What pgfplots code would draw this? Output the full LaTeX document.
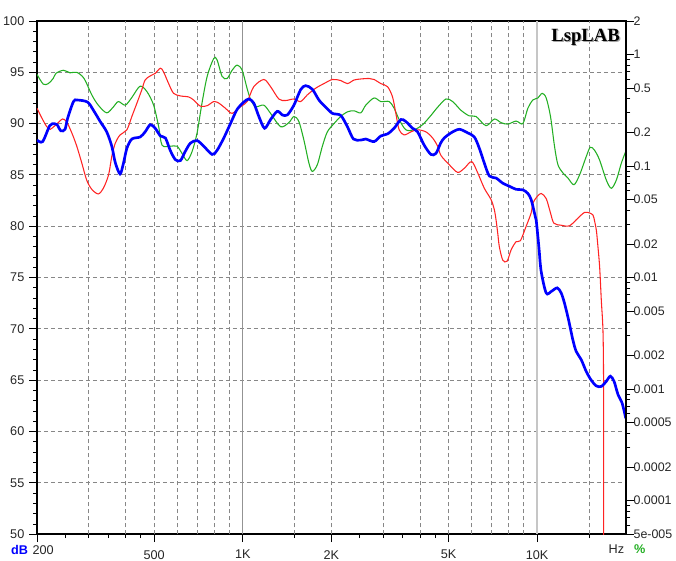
\documentclass[border=0pt]{standalone}
\usepackage{fontspec}
\setmainfont{Liberation Sans}
\newfontfamily\lspfont{Liberation Serif}
\usepackage{pgfplots}
\pgfplotsset{compat=1.18}
\definecolor{cblue}{RGB}{0,0,255}
\definecolor{cred}{RGB}{255,35,35}
\definecolor{cgreen}{RGB}{35,175,35}
\definecolor{gridc}{RGB}{135,135,135}
\begin{document}
\begin{tikzpicture}
\begin{axis}[name=main, at={(0,0)}, anchor=south west,
  scale only axis, width=441.75pt, height=385.1pt,
  xmode=log, xmin=200, xmax=20000, ymin=50, ymax=100,
  axis line style={line width=1.5pt, black},
  ytick={50,55,...,100}, minor y tick num=4,
  ymajorgrids,
  major grid style={gridc, dash pattern=on 3pt off 2.25pt, line width=0.7pt},
  xtick={200,500,1000,2000,5000,10000},
  xticklabels={,500,1K,2K,5K,10K},
  minor xtick={250,300,350,400,450,1500,2500,3000,3500,4000,4500,15000},
  xtick pos=bottom, ytick pos=left,
  tick align=outside, major tick length=6pt, minor tick length=3pt,
  tick style={black, line width=0.7pt},
  ticklabel style={font=\fontsize{9.5}{11}\selectfont, text=black!85},
  xticklabel style={yshift=-2.5pt},
  /pgf/number format/assume math mode=true,
  clip=true,
]
\pgfplotsinvokeforeach{300,400,500,600,700,800,900,1500,2000,3000,4000,5000,6000,7000,8000,9000,15000}{
  \draw[gridc, dash pattern=on 3pt off 2.25pt, line width=0.7pt] (axis cs:#1,50) -- (axis cs:#1,100);
}
\draw[gray!85, line width=0.75pt] (axis cs:1000,50) -- (axis cs:1000,100);
\draw[gray!45, line width=1.5pt] (axis cs:10000,50) -- (axis cs:10000,100);

% green
\addplot[cgreen, line width=0.8pt, smooth, tension=0.5] coordinates {
(200,94.8)(210,93.85)(218.5,93.9)(227,94.4)(232,94.9)(246,95.2)(259,94.95)(273,95.0)(289,94.4)
(307,92.8)(323,91.8)(345,91.05)(364,91.65)(378,92.15)(399,91.8)(420,92.55)(448,93.65)(473,93.1)
(498,91.8)(518,89.7)(532,87.9)(567,87.8)(598,87.8)(622,87.1)(647,86.4)(673,87.3)(699,89.05)
(727,92.0)(757,94.6)(797,96.35)(818,96.2)(851,94.6)(885,94.4)(920,95.2)(957,95.7)(995,95.2)
(1035,93.4)(1062,92.4)(1105,91.65)(1179,91.8)(1243,91.0)(1344,89.7)(1434,90.1)(1492,90.7)
(1551,90.2)(1613,88.4)(1678,86.15)(1723,85.35)(1792,86.0)(1864,87.8)(1938,89.2)(2041,90.0)
(2151,90.7)(2267,91.15)(2388,91.25)(2517,91.05)(2617,91.8)(2793,92.5)(2944,92.15)(3142,92.15)
(3267,91.5)(3398,90.4)(3581,89.4)(3822,89.4)(4082,89.9)(4357,90.8)(4592,91.6)(4900,92.4)
(5164,92.15)(5512,91.3)(5882,90.75)(6199,90.7)(6705,89.8)(7156,90.45)(7541,90.1)(7949,89.95)
(8483,90.25)(8940,90.0)(9298,91.5)(9669,92.3)(10056,92.5)(10401,92.95)(10732,92.5)(11100,90.7)
(11453,87.8)(11763,86.0)(12232,85.2)(12721,84.7)(13334,84.05)(13933,85.0)(14684,86.8)
(15152,87.7)(15672,87.4)(16298,86.45)(17177,84.5)(17864,83.7)(18578,84.5)(19320,86.15)(20000,87.3)
};
% red
\addplot[cred, line width=0.8pt, smooth, tension=0.5] coordinates {
(200,91.5)(209,90.4)(216,89.7)(222,89.45)(230,89.8)(236,90.1)(244,90.45)(252,90.2)(263,89.05)
(273,87.8)(284,86.15)(295,84.5)(307,83.6)(323,83.15)(336,83.7)(350,85.0)(359,86.8)(369,88.1)
(383,88.9)(404,89.4)(420,90.7)(437,92.0)(454,93.3)(466,94.25)(485,94.65)(504,94.9)(525,95.4)
(538,95.05)(560,93.9)(582,92.95)(614,92.7)(655,92.6)(681,92.3)(718,91.7)(757,91.75)(797,92.15)
(829,92.0)(873,91.5)(920,91.0)(982,91.65)(1035,92.15)(1090,93.6)(1179,94.3)(1243,93.6)
(1326,92.4)(1398,92.25)(1492,92.4)(1572,92.15)(1657,92.8)(1768,93.45)(1887,93.9)(2016,94.3)
(2151,94.2)(2267,93.9)(2388,94.25)(2517,94.35)(2686,94.4)(2793,94.3)(2944,93.9)(3103,93.6)
(3227,92.6)(3311,91.0)(3398,89.4)(3534,88.9)(3724,89.2)(3925,89.4)(4189,89.2)(4415,88.6)
(4592,87.8)(4712,86.9)(5028,86.0)(5370,85.25)(5656,85.65)(5994,86.3)(6282,85.2)(6616,83.7)
(6973,82.6)(7156,81.6)(7252,80.6)(7349,79.3)(7442,78.0)(7643,76.7)(7905,76.6)(8157,77.7)
(8483,78.5)(8774,78.6)(9175,80.0)(9541,81.3)(9669,82.25)(10001,82.9)(10319,83.2)(10732,82.7)
(11100,81.3)(11400,80.3)(12068,80.1)(12882,80.05)(13758,80.8)(14488,81.35)(15067,81.3)
(15475,81.1)(15596,80.8)(15882,79.65)(16007,78.7)(16298,76.1)(16517,72.8)(16742,69.6)
(16820,63.1)(16830,45)
};
% blue
\addplot[cblue, line width=2pt, smooth, tension=0.5] coordinates {
(200,88.4)(209,88.25)(221,89.8)(229,90.0)(234,89.9)(241,89.3)(249,89.45)(254,90.5)(266,92.15)
(274,92.3)(297,92.1)(311,91.3)(328,90.2)(345,89.2)(359,87.8)(369,86.2)(383,85.1)(393,86.1)
(404,87.6)(420,88.5)(448,88.7)(466,89.2)(485,89.9)(504,89.55)(525,88.8)(546,88.6)(567,87.4)
(590,86.5)(614,86.4)(638,87.3)(664,88.1)(699,88.35)(737,87.8)(787,87.0)(818,87.4)(862,88.6)
(908,90.0)(957,91.4)(1008,92.1)(1048,92.4)(1090,92.0)(1134,90.7)(1186,89.55)(1243,90.4)
(1310,91.2)(1362,90.85)(1417,90.85)(1492,91.8)(1572,93.3)(1635,93.7)(1723,93.35)(1815,92.3)
(1913,91.6)(2016,91.0)(2151,90.8)(2267,89.7)(2377,88.5)(2517,88.4)(2617,88.5)(2793,88.25)
(2944,88.8)(3103,89.0)(3267,89.55)(3444,90.4)(3581,90.2)(3774,89.55)(3925,89.2)(4134,87.9)
(4357,87.0)(4531,87.1)(4700,88.1)(4835,88.6)(5096,89.1)(5439,89.45)(5809,89.1)(6118,88.7)
(6362,87.6)(6616,86.15)(6881,84.9)(7252,84.7)(7643,84.2)(8049,83.9)(8483,83.6)(8940,83.55)
(9298,83.2)(9541,82.6)(9791,81.3)(9923,80.6)(10056,79.0)(10150,77.8)(10319,75.6)(10732,73.5)
(11161,73.65)(11699,74.0)(12068,73.5)(12387,72.5)(12781,70.9)(13230,68.9)(13577,67.8)
(14120,67.0)(14684,65.85)(15271,65.0)(15882,64.45)(16517,64.4)(17177,64.9)(17724,65.4)
(18246,64.9)(18827,63.6)(19427,62.8)(20000,61.3)
};
\end{axis}
\begin{axis}[at={(0,0)}, anchor=south west,
  scale only axis, width=441.75pt, height=385.1pt,
  xmode=log, xmin=200, xmax=20000,
  ymode=log, ymin=0.00005, ymax=2,
  hide x axis, axis y line*=right,
  axis line style={line width=1.5pt, black},
  ytick={2,1,0.5,0.2,0.1,0.05,0.02,0.01,0.005,0.002,0.001,0.0005,0.0002,0.0001,0.00005},
  yticklabels={2,1,0.5,0.2,0.1,0.05,0.02,0.01,0.005,0.002,0.001,0.0005,0.0002,0.0001,5e-005},
  minor ytick={0.00006,0.00007,0.00008,0.00009,0.0003,0.0004,0.0006,0.0007,0.0008,0.0009,0.003,0.004,0.006,0.007,0.008,0.009,0.03,0.04,0.06,0.07,0.08,0.09,0.3,0.4,0.6,0.7,0.8,0.9},
  tick align=outside, major tick length=6pt, minor tick length=3.5pt,
  tick style={black, line width=0.7pt},
  ticklabel style={font=\fontsize{9.3}{11}\selectfont, text=black!85},
  yticklabel style={xshift=-3.6pt},
  /pgf/number format/assume math mode=true,
]
\end{axis}
% labels
\node[anchor=north west, inner sep=0pt, font=\fontsize{9.5}{11}\selectfont, text=black!85] at ([xshift=-3.5pt,yshift=-8pt]main.south west) {200};
\node[anchor=north east, inner sep=0pt, font=\bfseries\fontsize{9.5}{11}\selectfont, text=cblue] at ([xshift=-6.5pt,yshift=-8pt]main.south west) {dB};
\node[anchor=north, inner sep=0pt, font=\fontsize{9.5}{11}\selectfont, text=black!85] at ([xshift=-7pt,yshift=-8pt]main.south east) {Hz};
\node[anchor=north, inner sep=0pt, font=\bfseries\fontsize{9.5}{11}\selectfont, text=cgreen] at ([xshift=10.5pt,yshift=-8pt]main.south east) {\%};
\node[anchor=base east, inner sep=0pt, font=\lspfont\bfseries\fontsize{14}{16}\selectfont, text=black!35] at ([xshift=-3.4pt,yshift=-16.3pt]main.north east) {LspLAB};
\node[anchor=base east, inner sep=0pt, font=\lspfont\bfseries\fontsize{14}{16}\selectfont, text=black] at ([xshift=-4.3pt,yshift=-15.5pt]main.north east) {LspLAB};
\pgfresetboundingbox
\useasboundingbox ([xshift=-27.75pt,yshift=-19.9pt]main.south west) rectangle ([xshift=37.7pt,yshift=15.75pt]main.north east);
\end{tikzpicture}
\end{document}
